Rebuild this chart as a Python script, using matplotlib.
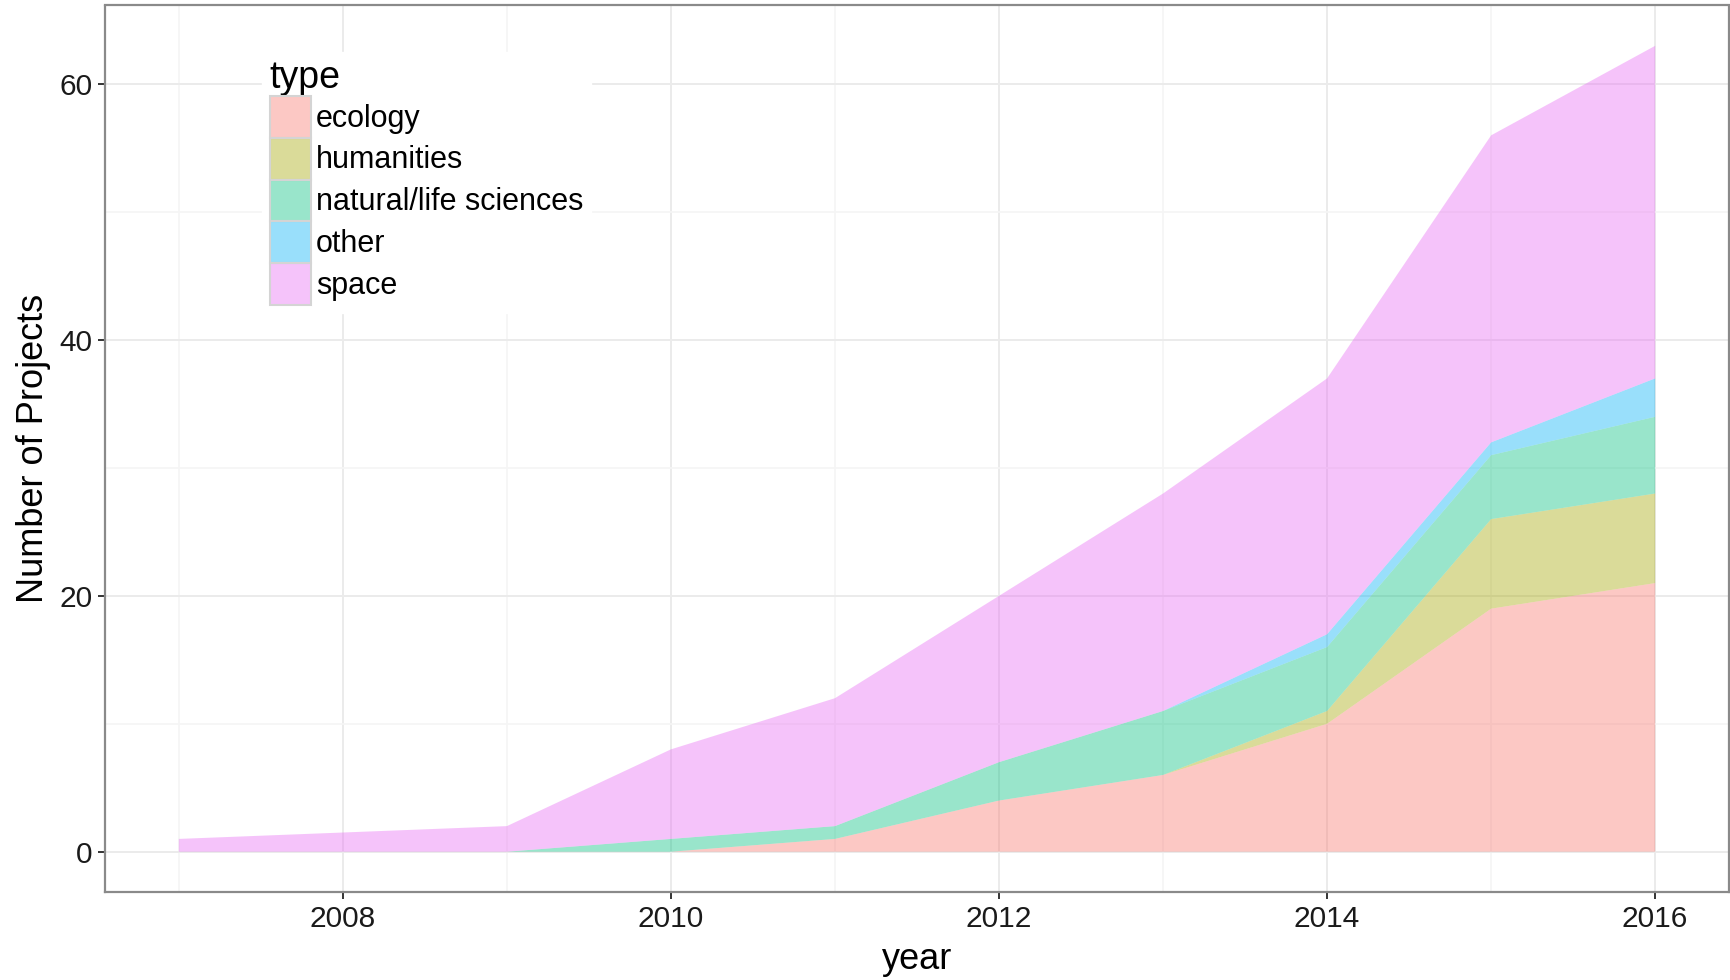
import matplotlib
matplotlib.use("Agg")
from matplotlib import pyplot as plt
from matplotlib.patches import Patch
from matplotlib.colors import to_rgba
import matplotlib.ticker as mtick

plt.rcParams['font.family'] = ['Liberation Sans', 'DejaVu Sans']

# данные: число проектов по годам и типам (2008 нет в данных)
years = [2007, 2009, 2010, 2011, 2012, 2013, 2014, 2015, 2016]
types = ['ecology', 'humanities', 'natural/life sciences', 'other', 'space']
ecology = [0, 0, 0, 1, 4, 6, 10, 19, 21]
humanities = [0, 0, 0, 0, 0, 0, 1, 7, 7]
natural = [0, 0, 1, 1, 3, 5, 5, 5, 6]
other = [0, 0, 0, 0, 0, 0, 1, 1, 3]
space = [1, 2, 7, 10, 13, 17, 20, 24, 26]

# цвета ggplot по умолчанию
colors = ['#F8766D', '#A3A500', '#00BF7D', '#00B0F6', '#E76BF3']
alpha = 0.4

fig = plt.figure(figsize=(17.31, 9.80), dpi=100)
ax = fig.add_axes([105/1731, 1-892/980, (1729-105)/1731, (892-5.5)/980])

ax.stackplot(years, ecology, humanities, natural, other, space,
             colors=colors, alpha=alpha, linewidth=0, zorder=2)

ax.set_xlim(2006.55, 2016.45)
ax.set_ylim(-3.15, 66.15)

ax.xaxis.set_major_locator(mtick.MultipleLocator(2))
ax.xaxis.set_minor_locator(mtick.FixedLocator([2007, 2009, 2011, 2013, 2015]))
ax.yaxis.set_major_locator(mtick.MultipleLocator(20))
ax.yaxis.set_minor_locator(mtick.FixedLocator([10, 30, 50]))

ax.grid(which='major', color='#EBEBEB', linewidth=1.4, zorder=0)
ax.grid(which='minor', color='#F5F5F5', linewidth=1.2, zorder=0)
ax.set_axisbelow(True)

for s in ax.spines.values():
    s.set_color('#8a8a8a')
    s.set_linewidth(1.6)

ax.tick_params(which='major', length=5, width=1.4, color='#333333',
               labelsize=21.5, labelcolor='#1a1a1a', pad=4)
ax.tick_params(which='minor', length=0)

ax.set_xlabel('year', fontsize=26, labelpad=7)
ax.set_ylabel('Number of Projects', fontsize=26, labelpad=6)

handles = [Patch(facecolor=to_rgba(c, alpha), edgecolor='#d4d4d4', linewidth=1.5) for c in colors]
leg = ax.legend(handles, types, title='type', loc='upper left',
                bbox_to_anchor=(262/1731, 1-52/980), bbox_transform=fig.transFigure,
                fontsize=22, title_fontsize=27, frameon=True, fancybox=False,
                handlelength=1.36, handleheight=1.735, handletextpad=0.15,
                labelspacing=0.0, borderpad=0.25, borderaxespad=0)
leg.get_frame().set_facecolor('white')
leg.get_frame().set_edgecolor('white')
leg.get_frame().set_alpha(1)
leg._legend_box.align = 'left'

fig.savefig('out.png', dpi=100)
